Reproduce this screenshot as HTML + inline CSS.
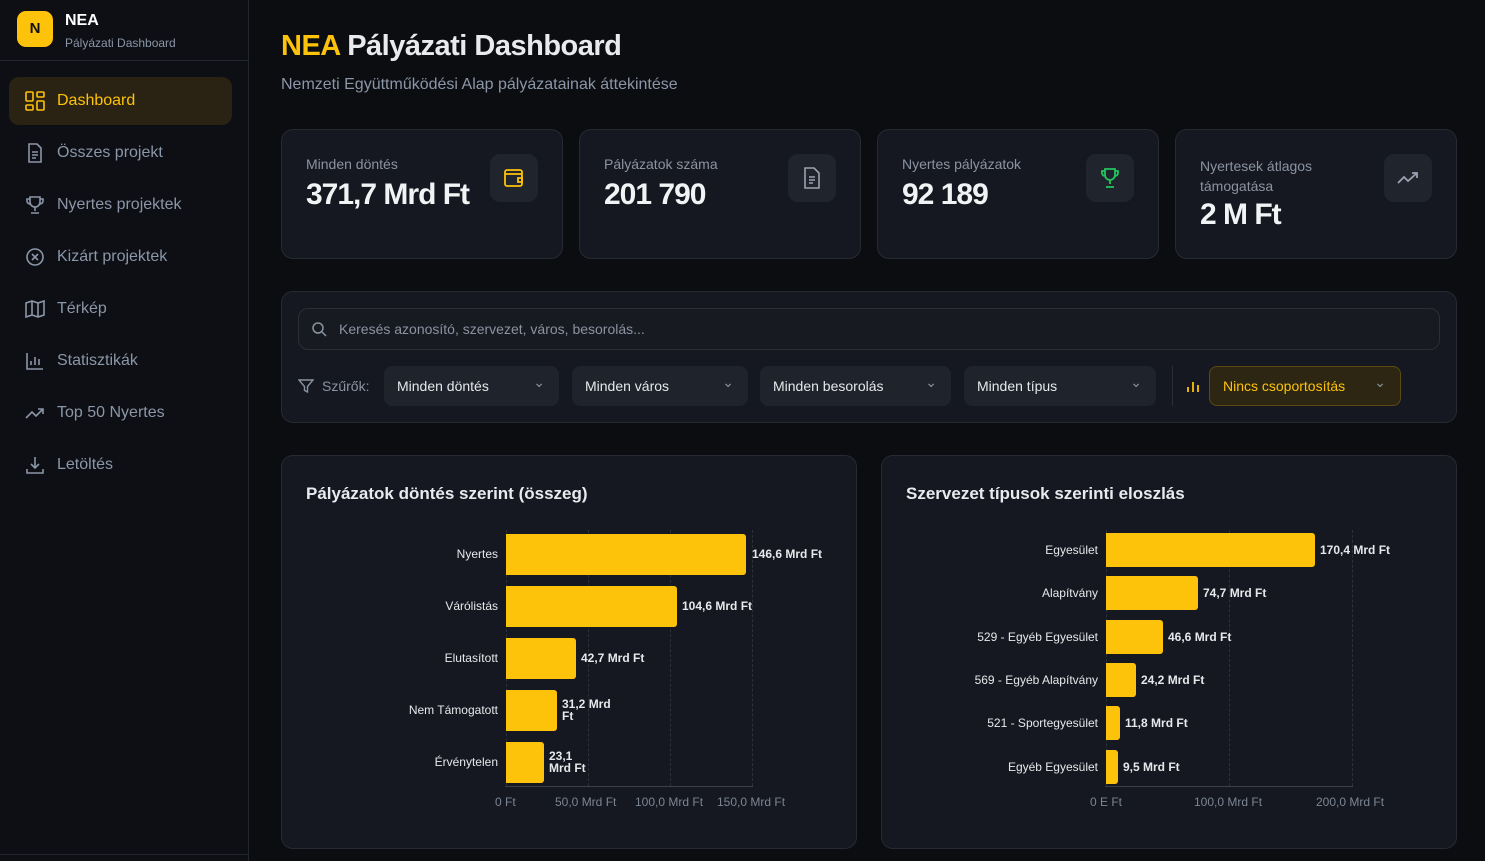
<!DOCTYPE html>
<html><head><meta charset="utf-8"><style>
*{box-sizing:border-box;margin:0;padding:0}
body{width:1485px;height:861px;overflow:hidden;background:#0b0d11;font-family:"Liberation Sans",sans-serif;color:#e8eaed;position:relative}
.abs{position:absolute}
.side{left:0;top:0;width:249px;height:861px;background:#0d0f14;border-right:1px solid #22262d}
.logo{left:17px;top:11px;width:36px;height:36px;border-radius:9px;background:#fdc20a;color:#111;font-weight:bold;font-size:15px;text-align:center;line-height:36px}
.nav{left:9px;width:223px;height:48px;border-radius:10px;font-size:16px;color:#8b96a8;padding-left:48px;line-height:48px}
.nav svg{position:absolute;left:16px;top:14px}
.card{background:#151820;border:1px solid #262a32;border-radius:12px}
.lbl{font-size:14px;color:#8b93a1}
.val{font-size:30px;font-weight:bold;color:#f2f3f5;letter-spacing:-1px}
.ic{width:48px;height:48px;border-radius:10px;background:#20242c}
.sel{top:366px;height:40px;border-radius:8px;background:#1f232b;font-size:14px;color:#e6e8eb;padding-left:13px;line-height:40px}
.sel:after{content:"⌄";position:absolute;right:14px;top:-4px;color:#8b93a1;font-size:14px}
.t{font-size:12px;color:#e6e8eb;font-weight:bold}
.ax{font-size:12px;color:#7c8594}
.bar{background:#fdc20a;border-radius:0 3px 3px 0}
.yl{font-size:12px;color:#e6e8eb;text-align:right;width:200px}
.grid{border-left:1px dashed #2b3039;width:0}
</style></head><body>
<div class="abs side"></div>
<div class="abs logo">N</div>
<div class="abs" style="left:65px;top:12px;font-size:16px;font-weight:bold;color:#fff">NEA</div>
<div class="abs" style="left:65px;top:36px;font-size:12px;color:#8b96a8">Pályázati Dashboard</div>
<div class="abs" style="left:0;top:60px;width:249px;border-top:1px solid #22262d"></div>
<div class="abs nav" style="top:77px;background:#2a2313;color:#fdc20a"><svg width="20" height="20" viewBox="0 0 20 20" fill="none" stroke="#fdc20a" stroke-width="1.6"><rect x="1" y="1" width="7" height="9" rx="1"/><rect x="12" y="1" width="7" height="5" rx="1"/><rect x="12" y="10" width="7" height="9" rx="1"/><rect x="1" y="14" width="7" height="5" rx="1"/></svg>Dashboard</div>
<div class="abs nav" style="top:129px"><svg width="20" height="20" viewBox="0 0 20 20" fill="none" stroke="#8b96a8" stroke-width="1.6"><path d="M4 1h8l4 4v14H4z M7 9h6M7 12h6M7 15h4"/></svg>Összes projekt</div>
<div class="abs nav" style="top:181px"><svg width="20" height="20" viewBox="0 0 20 20" fill="none" stroke="#8b96a8" stroke-width="1.6"><path d="M5 2h10v5a5 5 0 01-10 0zM10 12v4M6 18h8M5 4H2v2a3 3 0 003 3M15 4h3v2a3 3 0 01-3 3"/></svg>Nyertes projektek</div>
<div class="abs nav" style="top:233px"><svg width="20" height="20" viewBox="0 0 20 20" fill="none" stroke="#8b96a8" stroke-width="1.6"><circle cx="10" cy="10" r="8"/><path d="M7 7l6 6M13 7l-6 6"/></svg>Kizárt projektek</div>
<div class="abs nav" style="top:285px"><svg width="20" height="20" viewBox="0 0 20 20" fill="none" stroke="#8b96a8" stroke-width="1.6"><path d="M1 4l6-2 6 2 6-2v14l-6 2-6-2-6 2zM7 2v14M13 4v14"/></svg>Térkép</div>
<div class="abs nav" style="top:337px"><svg width="20" height="20" viewBox="0 0 20 20" fill="none" stroke="#8b96a8" stroke-width="1.6"><path d="M2 2v16h16M6 14v-4M10 14V6M14 14v-6"/></svg>Statisztikák</div>
<div class="abs nav" style="top:389px"><svg width="20" height="20" viewBox="0 0 20 20" fill="none" stroke="#8b96a8" stroke-width="1.6"><path d="M1 15l6-6 4 4 7-7M13 6h5v5"/></svg>Top 50 Nyertes</div>
<div class="abs nav" style="top:441px"><svg width="20" height="20" viewBox="0 0 20 20" fill="none" stroke="#8b96a8" stroke-width="1.6"><path d="M10 2v11M6 9l4 4 4-4M2 14v4h16v-4"/></svg>Letöltés</div>
<div class="abs" style="left:0;top:854px;width:249px;border-top:1px solid #22262d"></div>

<div class="abs" style="left:281px;top:30px;font-size:29px;font-weight:bold;letter-spacing:-0.5px"><span style="color:#fdc20a">NEA</span> Pályázati Dashboard</div>
<div class="abs" style="left:281px;top:76px;font-size:16px;color:#8b96a8">Nemzeti Együttműködési Alap pályázatainak áttekintése</div>

<div class="abs card" style="left:281px;top:129px;width:282px;height:130px"></div>
<div class="abs lbl" style="left:306px;top:156px">Minden döntés</div>
<div class="abs val" style="left:306px;top:178px">371,7 Mrd Ft</div>
<div class="abs ic" style="left:490px;top:154px"><svg style="margin:13px" width="22" height="22" viewBox="0 0 22 22" fill="none" stroke="#fdc20a" stroke-width="1.8"><rect x="2" y="3" width="17" height="16" rx="2"/><path d="M2 7h17M15 11h4v4h-4z"/></svg></div>
<div class="abs card" style="left:579px;top:129px;width:282px;height:130px"></div>
<div class="abs lbl" style="left:604px;top:156px">Pályázatok száma</div>
<div class="abs val" style="left:604px;top:178px">201 790</div>
<div class="abs ic" style="left:788px;top:154px"><svg style="margin:13px" width="22" height="22" viewBox="0 0 22 22" fill="none" stroke="#9aa3b2" stroke-width="1.6"><path d="M4 1h9l5 5v15H4zM8 10h6M8 13h6M8 16h4"/></svg></div>
<div class="abs card" style="left:877px;top:129px;width:282px;height:130px"></div>
<div class="abs lbl" style="left:902px;top:156px">Nyertes pályázatok</div>
<div class="abs val" style="left:902px;top:178px">92 189</div>
<div class="abs ic" style="left:1086px;top:154px"><svg style="margin:13px" width="22" height="22" viewBox="0 0 22 22" fill="none" stroke="#22c55e" stroke-width="1.8"><path d="M6 2h10v6a5 5 0 01-10 0zM11 13v4M7 20h8M6 4H3v2a3 3 0 003 3M16 4h3v2a3 3 0 01-3 3"/></svg></div>
<div class="abs card" style="left:1175px;top:129px;width:282px;height:130px"></div>
<div class="abs lbl" style="left:1200px;top:156px;line-height:20px">Nyertesek átlagos<br>támogatása</div>
<div class="abs val" style="left:1200px;top:198px">2 M Ft</div>
<div class="abs ic" style="left:1384px;top:154px"><svg style="margin:13px" width="22" height="22" viewBox="0 0 22 22" fill="none" stroke="#9aa3b2" stroke-width="1.8"><path d="M1 16l6-6 4 4 9-8M15 6h5v5"/></svg></div>

<div class="abs card" style="left:281px;top:291px;width:1176px;height:132px"></div>
<div class="abs" style="left:298px;top:308px;width:1142px;height:42px;border:1px solid #2a2e36;border-radius:10px;background:#171a21"></div>
<svg class="abs" style="left:311px;top:321px" width="16" height="16" viewBox="0 0 16 16" fill="none" stroke="#8b93a1" stroke-width="1.5"><circle cx="7" cy="7" r="5"/><path d="M11 11l4 4"/></svg>
<div class="abs" style="left:339px;top:321px;font-size:14px;color:#8b93a1">Keresés azonosító, szervezet, város, besorolás...</div>
<svg class="abs" style="left:298px;top:378px" width="16" height="16" viewBox="0 0 16 16" fill="none" stroke="#8b93a1" stroke-width="1.4"><path d="M1 2h14l-5.5 6.5V14l-3-1.5V8.5z"/></svg>
<div class="abs" style="left:322px;top:378px;font-size:14px;color:#8b93a1">Szűrők:</div>
<div class="abs sel" style="left:384px;width:175px">Minden döntés</div>
<div class="abs sel" style="left:572px;width:176px">Minden város</div>
<div class="abs sel" style="left:760px;width:191px">Minden besorolás</div>
<div class="abs sel" style="left:964px;width:192px">Minden típus</div>
<div class="abs" style="left:1172px;top:366px;height:40px;border-left:1px solid #2a2e36"></div>
<svg class="abs" style="left:1186px;top:379px" width="14" height="14" viewBox="0 0 14 14" stroke="#fdc20a" stroke-width="1.8"><path d="M2 13V8M7 13V3M12 13V6"/></svg>
<div class="abs sel" style="left:1209px;width:192px;background:#2d2613;border:1px solid #5c4a12;color:#fdc20a;line-height:38px">Nincs csoportosítás</div>

<div class="abs card" style="left:281px;top:455px;width:576px;height:394px"></div>
<div class="abs" style="left:306px;top:484px;font-size:17px;font-weight:bold">Pályázatok döntés szerint (összeg)</div>
<div class="abs grid" style="left:506px;top:530px;height:256px"></div>
<div class="abs grid" style="left:588px;top:530px;height:256px"></div>
<div class="abs grid" style="left:670px;top:530px;height:256px"></div>
<div class="abs grid" style="left:752px;top:530px;height:256px"></div>
<div class="abs" style="left:505px;top:786px;width:248px;border-top:1px solid #3a3f48"></div>
<div class="abs bar" style="left:506px;top:534px;width:240px;height:41px"></div>
<div class="abs bar" style="left:506px;top:586px;width:171px;height:41px"></div>
<div class="abs bar" style="left:506px;top:638px;width:70px;height:41px"></div>
<div class="abs bar" style="left:506px;top:690px;width:51px;height:41px"></div>
<div class="abs bar" style="left:506px;top:742px;width:38px;height:41px"></div>
<div class="abs yl" style="left:298px;top:547px">Nyertes</div>
<div class="abs yl" style="left:298px;top:599px">Várólistás</div>
<div class="abs yl" style="left:298px;top:651px">Elutasított</div>
<div class="abs yl" style="left:298px;top:703px">Nem Támogatott</div>
<div class="abs yl" style="left:298px;top:755px">Érvénytelen</div>
<div class="abs t" style="left:752px;top:547px">146,6 Mrd Ft</div>
<div class="abs t" style="left:682px;top:599px">104,6 Mrd Ft</div>
<div class="abs t" style="left:581px;top:651px">42,7 Mrd Ft</div>
<div class="abs t" style="left:562px;top:698px;line-height:12px">31,2 Mrd<br>Ft</div>
<div class="abs t" style="left:549px;top:750px;line-height:12px">23,1<br>Mrd Ft</div>
<div class="abs ax" style="left:495px;top:795px">0 Ft</div>
<div class="abs ax" style="left:555px;top:795px">50,0 Mrd Ft</div>
<div class="abs ax" style="left:635px;top:795px">100,0 Mrd Ft</div>
<div class="abs ax" style="left:717px;top:795px">150,0 Mrd Ft</div>

<div class="abs card" style="left:881px;top:455px;width:576px;height:394px"></div>
<div class="abs" style="left:906px;top:484px;font-size:17px;font-weight:bold">Szervezet típusok szerinti eloszlás</div>
<div class="abs grid" style="left:1106px;top:530px;height:256px"></div>
<div class="abs grid" style="left:1229px;top:530px;height:256px"></div>
<div class="abs grid" style="left:1352px;top:530px;height:256px"></div>
<div class="abs" style="left:1105px;top:786px;width:248px;border-top:1px solid #3a3f48"></div>
<div class="abs bar" style="left:1106px;top:533px;width:209px;height:34px"></div>
<div class="abs bar" style="left:1106px;top:576px;width:92px;height:34px"></div>
<div class="abs bar" style="left:1106px;top:620px;width:57px;height:34px"></div>
<div class="abs bar" style="left:1106px;top:663px;width:30px;height:34px"></div>
<div class="abs bar" style="left:1106px;top:706px;width:14px;height:34px"></div>
<div class="abs bar" style="left:1106px;top:750px;width:12px;height:34px"></div>
<div class="abs yl" style="left:898px;top:543px">Egyesület</div>
<div class="abs yl" style="left:898px;top:586px">Alapítvány</div>
<div class="abs yl" style="left:898px;top:630px">529 - Egyéb Egyesület</div>
<div class="abs yl" style="left:898px;top:673px">569 - Egyéb Alapítvány</div>
<div class="abs yl" style="left:898px;top:716px">521 - Sportegyesület</div>
<div class="abs yl" style="left:898px;top:760px">Egyéb Egyesület</div>
<div class="abs t" style="left:1320px;top:543px">170,4 Mrd Ft</div>
<div class="abs t" style="left:1203px;top:586px">74,7 Mrd Ft</div>
<div class="abs t" style="left:1168px;top:630px">46,6 Mrd Ft</div>
<div class="abs t" style="left:1141px;top:673px">24,2 Mrd Ft</div>
<div class="abs t" style="left:1125px;top:716px">11,8 Mrd Ft</div>
<div class="abs t" style="left:1123px;top:760px">9,5 Mrd Ft</div>
<div class="abs ax" style="left:1090px;top:795px">0 E Ft</div>
<div class="abs ax" style="left:1194px;top:795px">100,0 Mrd Ft</div>
<div class="abs ax" style="left:1316px;top:795px">200,0 Mrd Ft</div>
</body></html>
